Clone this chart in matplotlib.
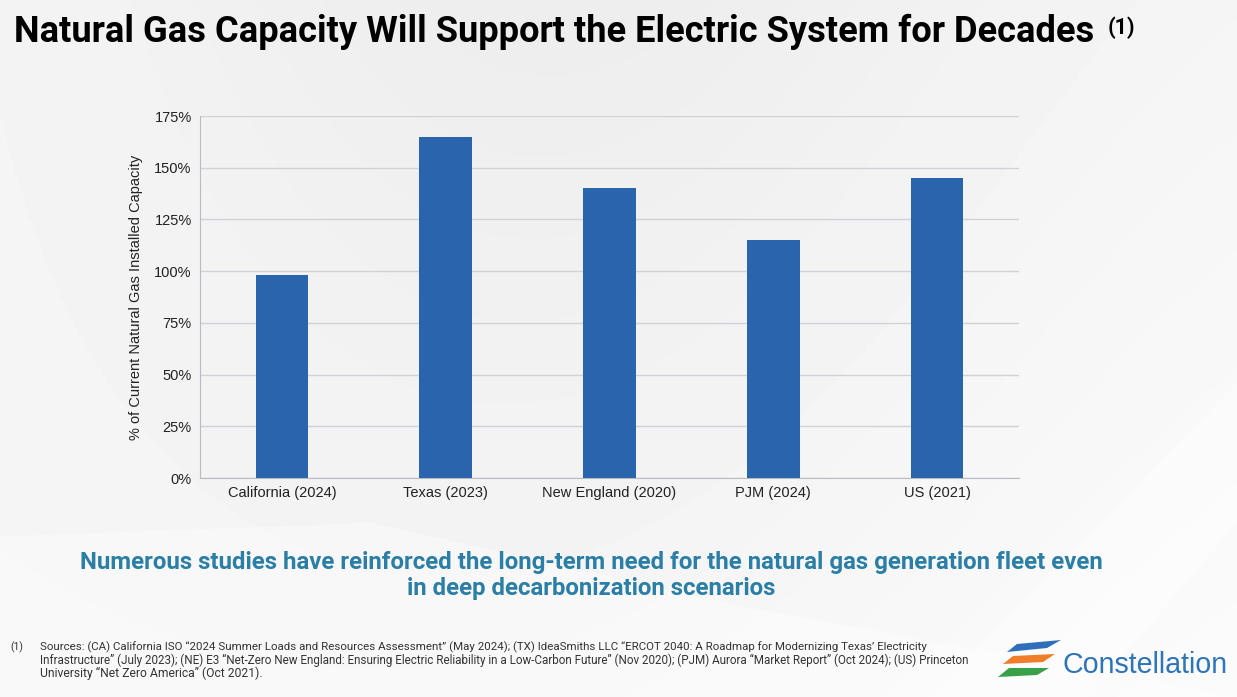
import matplotlib
matplotlib.use("Agg")
import matplotlib.pyplot as plt
import numpy as np
from matplotlib.patches import Polygon
from matplotlib import font_manager as fm

categories = ["California (2024)", "Texas (2023)", "New England (2020)", "PJM (2024)", "US (2021)"]
values = [98, 165, 140, 115, 145]
yticks = [0, 25, 50, 75, 100, 125, 150, 175]

title = "Natural Gas Capacity Will Support the Electric System for Decades"
subtitle_lines = ["Numerous studies have reinforced the long-term need for the natural gas generation fleet even",
                  "in deep decarbonization scenarios"]
footnote_lines = [
    "Sources: (CA) California ISO \u201c2024 Summer Loads and Resources Assessment\u201d (May 2024); (TX) IdeaSmiths LLC \u201cERCOT 2040: A Roadmap for Modernizing Texas\u2019 Electricity",
    "Infrastructure\u201d (July 2023); (NE) E3 \u201cNet-Zero New England: Ensuring Electric Reliability in a Low-Carbon Future\u201d (Nov 2020); (PJM) Aurora \u201cMarket Report\u201d (Oct 2024); (US) Princeton",
    "University \u201cNet Zero America\u201d (Oct 2021).",
]

names = {f.name for f in fm.fontManager.ttflist}
narrow = "Roboto" if "Roboto" in names else "DejaVu Sans"
body = "Liberation Sans" if "Liberation Sans" in names else "DejaVu Sans"

W, H = 1237, 697
fig = plt.figure(figsize=(W / 100, H / 100), dpi=100)
renderer = fig.canvas.get_renderer()


def fit(t, target_px):
    w = t.get_window_extent(renderer=renderer).width
    t.set_fontsize(t.get_fontsize() * target_px / w)


# background gradient
bg = fig.add_axes([0, 0, 1, 1], zorder=-10)
bg.set_axis_off()
yy, xx = np.mgrid[0:1:200j, 0:1:350j]
grad = 0.965 - 0.035 * np.exp(-((xx - 0.45) ** 2) / 0.15) * (0.3 + 0.7 * yy) + 0.02 * (1 - yy) * xx
bg.imshow(grad, cmap="gray", vmin=0, vmax=1, extent=[0, 1, 0, 1], aspect="auto", origin="lower")
bg.add_patch(Polygon([[0, 0.2], [0.0, 0.23], [0.3, 0.25], [0.6, 0.13], [1, 0.0], [0, 0.0]],
                     closed=True, facecolor="white", alpha=0.4, edgecolor="none"))
bg.add_patch(Polygon([[0.75, 0.0], [1.0, 0.45], [1.0, 0.25], [0.88, 0.0]],
                     closed=True, facecolor="white", alpha=0.45, edgecolor="none"))
bg.set_xlim(0, 1)
bg.set_ylim(0, 1)

ax = fig.add_axes([200 / W, 1 - 478 / H, 819 / W, 362 / H])
ax.set_facecolor("none")
x = np.arange(len(categories))
ax.bar(x, values, width=0.32, color="#2a64ad", zorder=3)
ax.set_xlim(-0.5, len(categories) - 0.5)
ax.set_ylim(0, 175)
ax.set_yticks(yticks)
ax.set_yticklabels([f"{v}%" for v in yticks], fontsize=10.5, color="#222222", family=body)
ax.set_xticks(x)
ax.set_xticklabels(categories, fontsize=10.5, color="#222222", family=body)
ax.tick_params(axis="both", length=0, pad=6)
ax.grid(axis="y", color="#cfd2d6", linewidth=1.0, zorder=0)
for s in ["top", "right"]:
    ax.spines[s].set_visible(False)
ax.spines["left"].set_color("#b8bcc2")
ax.spines["bottom"].set_color("#b8bcc2")
ax.set_ylabel("% of Current Natural Gas Installed Capacity", fontsize=10.5, color="#222222",
              family=body, labelpad=8)

t = fig.text(14 / W, 1 - 32 / H, title, fontsize=23, fontweight="bold", family=narrow,
             color="black", va="center", ha="left")
fit(t, 1083)
t = fig.text(1108 / W, 1 - 28 / H, "(1)", fontsize=14, fontweight="bold", family=narrow,
             color="black", va="center", ha="left")
fit(t, 28)

sub_y = [562, 588]
sub_w = [1023, 370]
for line, yv, wv in zip(subtitle_lines, sub_y, sub_w):
    t = fig.text(591 / W, 1 - yv / H, line, fontsize=15.5, fontweight="bold", family=narrow,
                 color="#2b7ea6", ha="center", va="center")
    fit(t, wv)

fig.text(10 / W, 1 - 647 / H, "(1)", fontsize=7.5, family=narrow, color="#333333", va="center")
fn_w = [884, 929, 223]
for i, line in enumerate(footnote_lines):
    t = fig.text(40 / W, 1 - (647 + i * 13.3) / H, line, fontsize=7.5, family=narrow,
                 color="#333333", va="center")
    fit(t, fn_w[i])

# logo
lg = fig.add_axes([995 / W, 1 - 690 / H, 240 / W, 60 / H])
lg.set_axis_off()
lg.set_xlim(0, 240)
lg.set_ylim(0, 60)
lg.add_patch(Polygon([[12, 38], [22, 46], [66, 50], [52, 42]], closed=True, facecolor="#2f6fba", edgecolor="none"))
lg.add_patch(Polygon([[8, 26], [18, 34], [60, 36], [48, 28]], closed=True, facecolor="#ef7d2a", edgecolor="none"))
lg.add_patch(Polygon([[3, 13], [14, 22], [54, 22], [42, 15]], closed=True, facecolor="#3aa048", edgecolor="none"))
t = lg.text(67, 25, "Constellation", fontsize=19, color="#2e74b8", family=body, va="center", ha="left")
fit(t, 166)

fig.savefig("out.png", dpi=100)
